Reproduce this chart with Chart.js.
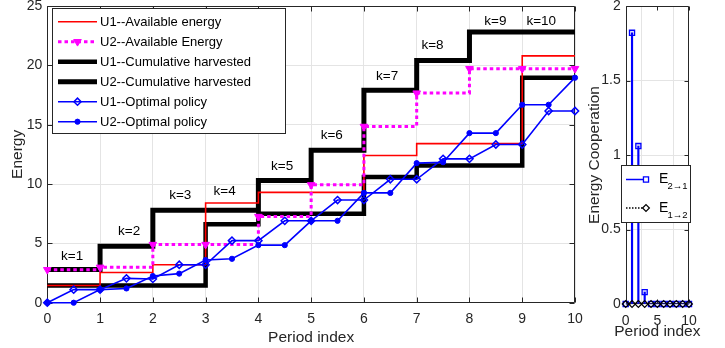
<!DOCTYPE html>
<html>
<head>
<meta charset="utf-8">
<script src="https://cdn.jsdelivr.net/npm/chart.js@4/dist/chart.umd.min.js"></script>
<style>
    html, body { margin: 0; padding: 0; background: #fff; }
    #wrap { position: relative; width: 725px; height: 348px; }
    #main { position: absolute; left: 0; top: 0; width: 600px; height: 348px; }
    #side { position: absolute; left: 580px; top: 0; width: 145px; height: 348px; }
</style>
</head>
<body>
<div id="wrap">
    <canvas id="main" width="600" height="348"></canvas>
    <canvas id="side" width="145" height="348"></canvas>
</div>
<script>
// ---- data ----
const periods = [0, 1, 2, 3, 4, 5, 6, 7, 8, 9, 10];
const halfPeriods = [0, 0.5, 1, 1.5, 2, 2.5, 3, 3.5, 4, 4.5, 5, 5.5, 6, 6.5, 7, 7.5, 8, 8.5, 9, 9.5, 10];

const u1Available = [1.45, 2.55, 3.2, 8.4, 9.3, 9.3, 12.4, 13.4, 13.4, 20.8, 20.8];
const u2Available = [2.78, 2.98, 4.9, 4.9, 7.26, 9.93, 14.85, 17.66, 19.72, 19.72, 19.72];
const u1Harvested = [1.45, 1.45, 1.45, 6.6, 7.5, 7.5, 10.6, 11.55, 11.55, 18.95, 18.95];
const u2Harvested = [2.8, 4.75, 7.8, 7.8, 10.3, 12.85, 17.9, 20.4, 22.8, 22.8, 22.8];
const u1Policy = [0, 1.1, 1.1, 2.05, 2.0, 3.2, 3.2, 5.23, 5.23, 6.9, 6.9, 8.65, 8.65, 10.4, 10.4, 12.12, 12.12, 13.33, 13.33, 16.15, 16.15];
const u2Policy = [0, 0, 1.1, 1.2, 2.25, 2.45, 3.6, 3.7, 4.85, 4.85, 6.9, 6.9, 9.25, 9.25, 11.76, 11.84, 14.29, 14.29, 16.68, 16.68, 18.96];

const legendLabels = ['U1--Available energy', 'U2--Available Energy', 'U1--Cumulative harvested',
    'U2--Cumulative harvested', 'U1--Optimal policy', 'U2--Optimal policy'];

const kLabels = ['k=1', 'k=2', 'k=3', 'k=4', 'k=5', 'k=6', 'k=7', 'k=8', 'k=9', 'k=10'];
const kLabelX = [0.47, 1.55, 2.52, 3.36, 4.45, 5.39, 6.44, 7.3, 8.49, 9.36];
const kLabelY = [3.88, 5.98, 9.01, 9.41, 11.46, 14.13, 19.04, 21.7, 23.7, 23.7];

const e21 = [0, 1.82, 1.06, 0.08, 0, 0, 0, 0, 0, 0, 0];
const e12 = [0, 0, 0, 0, 0, 0, 0, 0, 0, 0, 0];
const coopLegend = [['E', '2\u21921'], ['E', '1\u21922']];

// ---- styling ----
const FONT = "'Liberation Sans', Arial, Helvetica, sans-serif";
const INK = '#262626';
const GRID = '#e4e4e4';
const BLUE = '#0000ff';

const pts = (xs, ys) => xs.map((x, i) => ({ x: x, y: ys[i] }));

function drawMarker(ctx, ds, x, y) {
    if (!ds.pointRadius) return;
    ctx.save();
    ctx.setLineDash([]);
    ctx.fillStyle = ds.pointBackgroundColor;
    ctx.strokeStyle = ds.pointBorderColor;
    ctx.lineWidth = ds.pointBorderWidth;
    Chart.helpers.drawPoint(ctx, {
        pointStyle: ds.pointStyle, rotation: ds.pointRotation || 0,
        radius: ds.pointRadius, borderWidth: ds.pointBorderWidth
    }, x, y);
    ctx.restore();
}

function drawSample(ctx, ds, x0, x1, y, mx) {
    ctx.save();
    ctx.strokeStyle = ds.borderColor;
    ctx.lineWidth = ds.borderWidth;
    ctx.setLineDash(ds.borderDash || []);
    ctx.beginPath();
    ctx.moveTo(x0, y);
    ctx.lineTo(x1, y);
    ctx.stroke();
    ctx.restore();
    drawMarker(ctx, ds, mx, y);
}

// box with inward ticks + axis titles, MATLAB style
function framePlugin(tickLen, titles) {
    return {
        id: 'frame',
        beforeDatasetsDraw(chart) {
            const { ctx, chartArea: a, scales } = chart;
            const L = Math.round(a.left) + 0.5, R = Math.round(a.right) - 0.5;
            const T = Math.round(a.top) + 0.5, B = Math.round(a.bottom) - 0.5;
            ctx.save();
            ctx.strokeStyle = INK;
            ctx.lineWidth = 1;
            ctx.beginPath();
            ctx.rect(L, T, R - L, B - T);
            scales.x.ticks.forEach(t => {
                const p = Math.round(scales.x.getPixelForValue(t.value)) + 0.5;
                ctx.moveTo(p, B); ctx.lineTo(p, B - tickLen);
                ctx.moveTo(p, T); ctx.lineTo(p, T + tickLen);
            });
            scales.y.ticks.forEach(t => {
                const p = Math.round(scales.y.getPixelForValue(t.value)) + 0.5;
                ctx.moveTo(L, p); ctx.lineTo(L + tickLen, p);
                ctx.moveTo(R, p); ctx.lineTo(R - tickLen, p);
            });
            ctx.stroke();

            // axis titles
            ctx.fillStyle = INK;
            ctx.font = '15.5px ' + FONT;
            ctx.textAlign = 'center';
            ctx.textBaseline = 'middle';
            ctx.fillText(titles.x, (a.left + a.right) / 2, titles.xTitleY);
            ctx.translate(titles.yTitleX, (a.top + a.bottom) / 2);
            ctx.rotate(-Math.PI / 2);
            ctx.fillText(titles.y, 0, 0);
            ctx.restore();
        }
    };
}

const kLabelPlugin = {
    id: 'kLabels',
    afterDatasetsDraw(chart) {
        const { ctx, scales } = chart;
        ctx.save();
        ctx.fillStyle = '#000';
        ctx.font = '13.5px ' + FONT;
        ctx.textAlign = 'center';
        ctx.textBaseline = 'middle';
        kLabels.forEach((t, i) => {
            ctx.fillText(t, scales.x.getPixelForValue(kLabelX[i]), scales.y.getPixelForValue(kLabelY[i]));
        });
        ctx.restore();
    }
};

const mainLegend = {
    id: 'mainLegend',
    afterDraw(chart) {
        const ctx = chart.ctx;
        ctx.save();
        ctx.fillStyle = '#fff';
        ctx.fillRect(52, 8, 233, 125);
        ctx.strokeStyle = INK;
        ctx.lineWidth = 1;
        ctx.strokeRect(52.5, 8.5, 233, 125);
        ctx.font = '13px ' + FONT;
        ctx.textBaseline = 'middle';
        legendLabels.forEach((lab, i) => {
            const y = 21.7 + i * 20;
            drawSample(ctx, chart.data.datasets[i], 58, 97, y, 77.5);
            ctx.fillStyle = '#000';
            ctx.fillText(lab, 100, y + 0.5);
        });
        ctx.restore();
    }
};

const sideLegend = {
    id: 'sideLegend',
    afterDraw(chart) {
        const ctx = chart.ctx;
        const ds = chart.data.datasets;
        ctx.save();
        ctx.fillStyle = '#fff';
        ctx.fillRect(41, 165, 69, 57);
        ctx.strokeStyle = INK;
        ctx.lineWidth = 1;
        ctx.strokeRect(41.5, 165.5, 69, 57);
        const rows = [[179.5, ds[1]], [208, ds[2]]];
        rows.forEach((r, i) => {
            const y = r[0];
            const sample = { borderColor: r[1].pointBorderColor, borderWidth: 1.5, borderDash: i === 0 ? [] : [1.5, 1.5],
                pointStyle: r[1].pointStyle, pointRadius: r[1].pointRadius, pointBorderWidth: r[1].pointBorderWidth,
                pointBackgroundColor: '#fff', pointBorderColor: r[1].pointBorderColor };
            drawSample(ctx, sample, 46, 66, y, 66);
            ctx.fillStyle = '#000';
            ctx.textBaseline = 'middle';
            ctx.font = '14px ' + FONT;
            ctx.fillText(coopLegend[i][0], 79, y);
            ctx.font = '9.5px ' + FONT;
            ctx.fillText(coopLegend[i][1], 87.5, y + 7);
        });
        ctx.restore();
    }
};

function axisOpts(min, max, step, pad, extra) {
    return Object.assign({
        type: 'linear', min: min, max: max,
        ticks: { stepSize: step, color: INK, font: { family: FONT, size: 14 }, maxRotation: 0, autoSkip: false,
                 padding: pad, callback: v => String(v) },
        grid: { color: GRID, lineWidth: 1, drawTicks: false },
        border: { display: false },
        title: { display: false }
    }, extra);
}

// ---- main chart ----
new Chart(document.getElementById('main'), {
    type: 'line',
    data: {
        datasets: [
            { label: legendLabels[0], data: pts(periods, u1Available), borderColor: '#ff0000', borderWidth: 1.6,
              stepped: true, pointRadius: 0, order: 2, clip: false },
            { label: legendLabels[1], data: pts(periods, u2Available), borderColor: '#ff00ff', borderWidth: 3,
              borderDash: [3.5, 3], stepped: true, pointStyle: 'triangle', pointRotation: 180, pointRadius: 4.4,
              pointBackgroundColor: '#ff00ff', pointBorderColor: '#ff00ff', pointBorderWidth: 1, order: 1, clip: false },
            { label: legendLabels[2], data: pts(periods, u1Harvested), borderColor: '#000', borderWidth: 4.5,
              stepped: true, pointRadius: 0, order: 3, borderJoinStyle: 'miter', clip: false },
            { label: legendLabels[3], data: pts(periods, u2Harvested), borderColor: '#000', borderWidth: 5,
              stepped: true, pointRadius: 0, order: 3, borderJoinStyle: 'miter', clip: false },
            { label: legendLabels[4], data: pts(halfPeriods, u1Policy), borderColor: BLUE, borderWidth: 1.6,
              pointStyle: 'rectRot', pointRadius: 3.6, pointBackgroundColor: 'rgba(255,255,255,0)',
              pointBorderColor: BLUE, pointBorderWidth: 1.5, order: 0, clip: false },
            { label: legendLabels[5], data: pts(halfPeriods, u2Policy), borderColor: BLUE, borderWidth: 1.6,
              pointStyle: 'circle', pointRadius: 2.6, pointBackgroundColor: BLUE,
              pointBorderColor: BLUE, pointBorderWidth: 1, order: 0, clip: false }
        ]
    },
    options: {
        responsive: false,
        animation: false,
        layout: { padding: { left: 0, right: 25, top: 6, bottom: 0 } },
        plugins: { legend: { display: false }, tooltip: { enabled: false } },
        scales: {
            x: axisOpts(0, 10, 1, 8, {
                afterFit(s) { s.height = 45.3; s.paddingLeft = 0; s.paddingRight = 0; }
            }),
            y: axisOpts(0, 25, 5, 5, {
                afterFit(s) { s.width = 47.3; s.paddingTop = 0; s.paddingBottom = 0; }
            })
        }
    },
    plugins: [framePlugin(5, { x: 'Period index', y: 'Energy', xTitleY: 338, yTitleX: 18 }), kLabelPlugin, mainLegend]
});

// ---- energy cooperation stem chart ----
new Chart(document.getElementById('side'), {
    type: 'line',
    data: {
        datasets: [
            { type: 'bar', data: pts(periods, e21), backgroundColor: BLUE, barThickness: 1.5, order: 3 },
            { type: 'line', data: pts(periods, e21), showLine: false, pointStyle: 'rect', pointRadius: 3.6,
              pointBackgroundColor: 'rgba(0,0,255,0.12)', pointBorderColor: BLUE, pointBorderWidth: 1.3, order: 1, clip: false },
            { type: 'line', data: pts(periods, e12), showLine: false, pointStyle: 'rectRot', pointRadius: 3.4,
              pointBackgroundColor: 'rgba(255,255,255,0)', pointBorderColor: '#000', pointBorderWidth: 1.2, order: 0, clip: false }
        ]
    },
    options: {
        responsive: false,
        animation: false,
        layout: { padding: { left: 0, right: 36, top: 6, bottom: 0 } },
        plugins: { legend: { display: false }, tooltip: { enabled: false } },
        scales: {
            x: axisOpts(0, 10, 5, 9, {
                offset: false,
                afterFit(s) { s.height = 44; s.paddingLeft = 0; s.paddingRight = 0; }
            }),
            y: axisOpts(0, 2, 0.5, 5, {
                afterFit(s) { s.width = 45.7; s.paddingTop = 0; s.paddingBottom = 0; }
            })
        }
    },
    plugins: [framePlugin(4, { x: 'Period index', y: 'Energy Cooperation', xTitleY: 332, yTitleX: 15 }), sideLegend]
});
</script>
</body>
</html>
